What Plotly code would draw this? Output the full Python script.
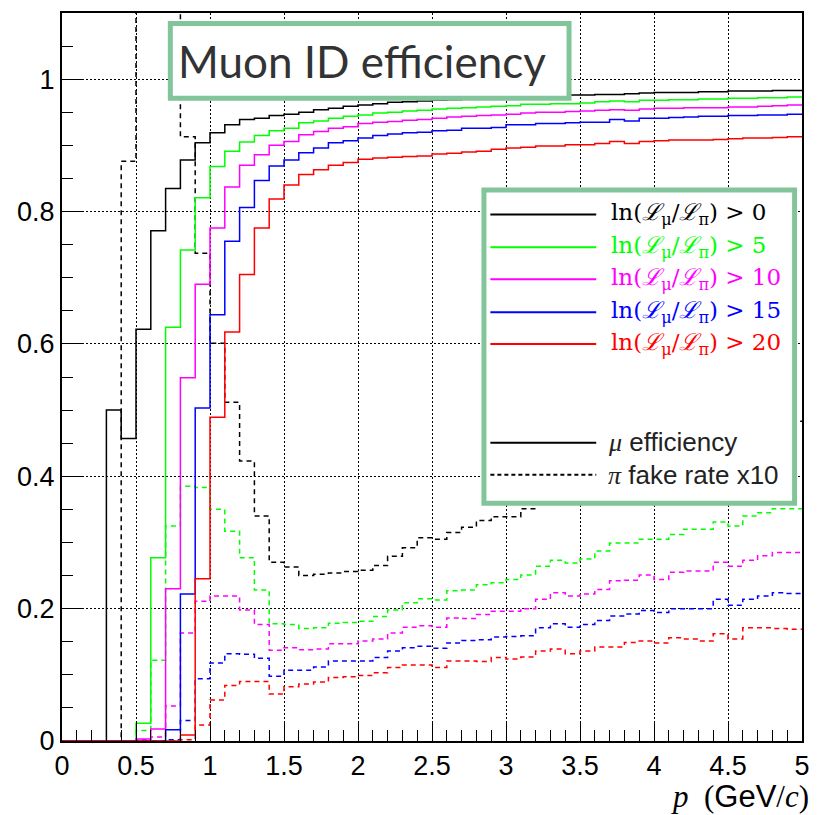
import numpy as np
import plotly.graph_objects as go

# ---------------- data (bin width 0.1 GeV/c, bins 0.0 ... 4.9) ----------------
bin_width = 0.1
n_bins = 50

eff_cut0 = [0, 0, 0, 0.500, 0.457, 0.622, 0.771, 0.835, 0.878, 0.904,
            0.919, 0.931, 0.939, 0.941, 0.945, 0.947, 0.950, 0.954, 0.956, 0.959,
            0.961, 0.963, 0.965, 0.966, 0.967, 0.968, 0.969, 0.970, 0.971, 0.972,
            0.972, 0.973, 0.974, 0.975, 0.976, 0.976, 0.977, 0.977, 0.978, 0.979,
            0.980, 0.980, 0.980, 0.981, 0.981, 0.982, 0.982, 0.982, 0.983, 0.983]
eff_cut5 = [0, 0, 0, 0, 0, 0.027, 0.277, 0.625, 0.742, 0.821,
            0.868, 0.891, 0.905, 0.915, 0.922, 0.926, 0.934, 0.937, 0.941, 0.944,
            0.946, 0.949, 0.950, 0.952, 0.953, 0.955, 0.956, 0.957, 0.958, 0.959,
            0.960, 0.962, 0.962, 0.963, 0.963, 0.964, 0.966, 0.967, 0.966, 0.968,
            0.968, 0.969, 0.969, 0.970, 0.970, 0.971, 0.971, 0.972, 0.972, 0.973]
eff_cut10 = [0, 0, 0, 0, 0, 0.003, 0.018, 0.230, 0.549, 0.690,
             0.775, 0.837, 0.870, 0.886, 0.900, 0.906, 0.916, 0.921, 0.926, 0.928,
             0.933, 0.935, 0.936, 0.938, 0.939, 0.941, 0.943, 0.944, 0.945, 0.946,
             0.947, 0.949, 0.950, 0.950, 0.951, 0.952, 0.953, 0.954, 0.953, 0.955,
             0.956, 0.956, 0.957, 0.957, 0.957, 0.958, 0.958, 0.959, 0.960, 0.961]
eff_cut15 = [0, 0, 0, 0, 0, 0, 0, 0.017, 0.222, 0.503,
             0.644, 0.755, 0.806, 0.847, 0.869, 0.878, 0.889, 0.896, 0.904, 0.907,
             0.911, 0.915, 0.917, 0.919, 0.920, 0.922, 0.923, 0.926, 0.926, 0.927,
             0.931, 0.931, 0.933, 0.933, 0.934, 0.935, 0.935, 0.939, 0.937, 0.941,
             0.941, 0.942, 0.943, 0.944, 0.944, 0.945, 0.945, 0.946, 0.946, 0.947]
eff_cut20 = [0, 0, 0, 0, 0, 0, 0, 0, 0.009, 0.245,
             0.489, 0.618, 0.705, 0.775, 0.819, 0.840, 0.856, 0.863, 0.870, 0.874,
             0.879, 0.881, 0.882, 0.883, 0.884, 0.887, 0.888, 0.890, 0.891, 0.894,
             0.896, 0.897, 0.899, 0.899, 0.901, 0.901, 0.903, 0.906, 0.903, 0.906,
             0.907, 0.908, 0.908, 0.908, 0.909, 0.910, 0.911, 0.911, 0.912, 0.913]

fake_cut0 = [0, 0, 0, 0, 0.876, 1.5, 1.4, 1.2, 0.913, 0.737,
             0.601, 0.512, 0.423, 0.340, 0.270, 0.263, 0.250, 0.252, 0.254, 0.256,
             0.258, 0.265, 0.279, 0.292, 0.307, 0.305, 0.315, 0.323, 0.333, 0.339,
             0.339, 0.351, 0.362, 0.370, 0.368, 0.375, 0.386, 0.397, 0.398, 0.405,
             0.403, 0.412, 0.416, 0.418, 0.430, 0.425, 0.440, 0.450, 0.465, 0.483]
fake_cut5 = [0, 0, 0, 0, 0, 0.016, 0.122, 0.325, 0.385, 0.383,
             0.350, 0.317, 0.277, 0.228, 0.177, 0.176, 0.170, 0.171, 0.178, 0.179,
             0.181, 0.188, 0.198, 0.209, 0.215, 0.213, 0.227, 0.228, 0.236, 0.239,
             0.244, 0.251, 0.264, 0.273, 0.269, 0.275, 0.287, 0.299, 0.299, 0.305,
             0.305, 0.312, 0.320, 0.320, 0.331, 0.325, 0.340, 0.345, 0.351, 0.351]
fake_cut10 = [0, 0, 0, 0, 0, 0.002, 0.006, 0.053, 0.163, 0.211,
              0.219, 0.219, 0.198, 0.176, 0.137, 0.141, 0.138, 0.139, 0.147, 0.147,
              0.151, 0.154, 0.163, 0.172, 0.174, 0.172, 0.186, 0.185, 0.191, 0.196,
              0.196, 0.200, 0.214, 0.224, 0.219, 0.222, 0.229, 0.242, 0.243, 0.251,
              0.244, 0.255, 0.257, 0.257, 0.270, 0.264, 0.273, 0.280, 0.285, 0.285]
fake_cut15 = [0, 0, 0, 0, 0, 0, 0, 0.002, 0.031, 0.094,
              0.118, 0.132, 0.131, 0.125, 0.098, 0.107, 0.107, 0.112, 0.121, 0.121,
              0.121, 0.126, 0.136, 0.141, 0.143, 0.140, 0.148, 0.152, 0.153, 0.157,
              0.158, 0.159, 0.171, 0.177, 0.172, 0.176, 0.182, 0.189, 0.192, 0.197,
              0.194, 0.200, 0.200, 0.200, 0.214, 0.205, 0.214, 0.219, 0.224, 0.223]
fake_cut20 = [0, 0, 0, 0, 0, 0, 0, 0, 0.002, 0.024,
              0.062, 0.084, 0.090, 0.090, 0.071, 0.082, 0.086, 0.089, 0.096, 0.097,
              0.099, 0.103, 0.111, 0.115, 0.115, 0.111, 0.121, 0.121, 0.120, 0.126,
              0.124, 0.127, 0.136, 0.139, 0.132, 0.136, 0.142, 0.142, 0.149, 0.151,
              0.148, 0.156, 0.154, 0.151, 0.162, 0.154, 0.171, 0.171, 0.170, 0.169]

cut_labels = ["0", "5", "10", "15", "20"]
colors = ["#000000", "#00ff00", "#ff00ff", "#0000ff", "#ff0000"]
eff_series = [eff_cut0, eff_cut5, eff_cut10, eff_cut15, eff_cut20]
fake_series = [fake_cut0, fake_cut5, fake_cut10, fake_cut15, fake_cut20]

edges = np.round(np.arange(n_bins + 1) * bin_width, 3)

def step_y(vals):
    v = list(vals)
    return v + [v[-1]]

fig = go.Figure()
for vals, c in zip(fake_series, colors):
    fig.add_trace(go.Scatter(x=edges, y=step_y(vals), mode="lines", line_shape="hv",
                             line=dict(color=c, width=1.5, dash="5px,4px"),
                             showlegend=False, hoverinfo="skip"))
for vals, c in zip(eff_series, colors):
    fig.add_trace(go.Scatter(x=edges, y=step_y(vals), mode="lines", line_shape="hv",
                             line=dict(color=c, width=1.5),
                             showlegend=False, hoverinfo="skip"))

# ---------------- layout ----------------
W, H = 821, 815
L, R, T, B = 62, 11, 11, 74
PW, PH = W - L - R, H - T - B

def px(x):
    return (x - L) / PW

def py(y):
    return (H - B - y) / PH

box_green = "#82c59a"
serif = "DejaVu Serif"
shapes = []
annotations = []

# title box
shapes.append(dict(type="rect", xref="paper", yref="paper", layer="above",
                   x0=px(171.5), x1=px(574.5), y0=py(96.5), y1=py(21.5),
                   fillcolor="white", line=dict(color=box_green, width=5)))
annotations.append(dict(xref="paper", yref="paper", x=px(177), y=py(59),
                        xanchor="left", yanchor="middle", showarrow=False,
                        text="Muon ID efficiency",
                        font=dict(family="Lato", size=44, color="#333333")))

# legend box
shapes.append(dict(type="rect", xref="paper", yref="paper", layer="above",
                   x0=px(488.5), x1=px(802.5), y0=py(502.5), y1=py(188.5),
                   fillcolor="white", line=dict(color=box_green, width=5)))
leg_y = [213, 246, 278, 311, 343]
for yy, c, lab in zip(leg_y, colors, cut_labels):
    shapes.append(dict(type="line", xref="paper", yref="paper", layer="above",
                       x0=px(495), x1=px(602), y0=py(yy), y1=py(yy),
                       line=dict(color=c, width=2)))
    annotations.append(dict(xref="paper", yref="paper", x=px(615), y=py(yy),
                            xanchor="left", yanchor="middle", showarrow=False,
                            text="ln(<i>ℒ</i><sub>μ</sub>/<i>ℒ</i><sub>π</sub>) > " + lab,
                            font=dict(family=serif, size=23, color=c)))
shapes.append(dict(type="line", xref="paper", yref="paper", layer="above",
                   x0=px(495), x1=px(602), y0=py(442), y1=py(442),
                   line=dict(color="black", width=2)))
shapes.append(dict(type="line", xref="paper", yref="paper", layer="above",
                   x0=px(495), x1=px(602), y0=py(474), y1=py(474),
                   line=dict(color="black", width=2, dash="4px,3px")))
annotations.append(dict(xref="paper", yref="paper", x=px(612), y=py(441),
                        xanchor="left", yanchor="middle", showarrow=False,
                        text='<span style="font-family:Liberation Serif"><i>μ</i></span> efficiency',
                        font=dict(family="Liberation Sans", size=26, color="#222222")))
annotations.append(dict(xref="paper", yref="paper", x=px(612), y=py(474),
                        xanchor="left", yanchor="middle", showarrow=False,
                        text='<span style="font-family:Liberation Serif"><i>π</i></span> fake rate x10',
                        font=dict(family="Liberation Sans", size=26, color="#222222")))

# x-axis title
annotations.append(dict(xref="paper", yref="paper", x=px(819), y=py(797),
                        xanchor="right", yanchor="middle", showarrow=False,
                        text='<span style="font-family:Liberation Serif"><i>p</i>\u2002(</span>GeV'
                             '<span style="font-family:Liberation Serif">/<i>c</i>)</span>',
                        font=dict(family="Liberation Sans", size=31, color="black")))

axis_common = dict(showline=True, mirror=True, linecolor="black", linewidth=2,
                   ticks="inside", tickcolor="black", tickwidth=1, ticklen=20,
                   showgrid=True, gridcolor="black", gridwidth=1, griddash="1.5px,2.5px",
                   zeroline=False, tickfont=dict(family="Liberation Sans", size=27, color="black"))

fig.update_layout(
    width=W, height=H,
    margin=dict(l=L, r=R, t=T, b=B, pad=0),
    paper_bgcolor="white", plot_bgcolor="white",
    showlegend=False,
    shapes=shapes, annotations=annotations,
    xaxis=dict(range=[0, 5], tickmode="linear", tick0=0, dtick=0.5,
               minor=dict(dtick=0.1, ticks="inside", ticklen=11, tickcolor="black", showgrid=False),
               **axis_common),
    yaxis=dict(range=[0, 1.1], tickmode="linear", tick0=0, dtick=0.2,
               minor=dict(dtick=0.05, ticks="inside", ticklen=11, tickcolor="black", showgrid=False),
               **axis_common),
)

fig.write_html("out.html")
